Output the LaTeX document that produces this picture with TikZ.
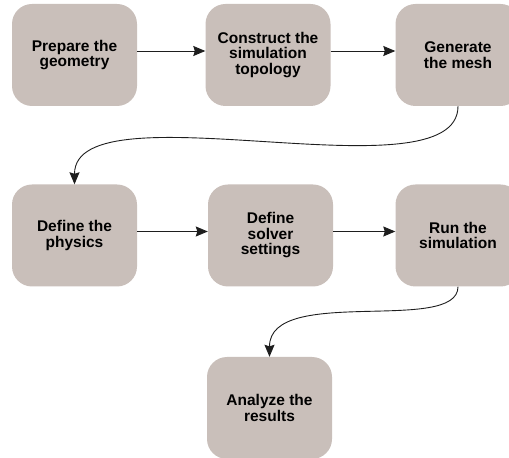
\documentclass[tikz,border=0pt]{standalone}
\usepackage{fontspec}
\setmainfont{Liberation Sans}
\usetikzlibrary{arrows.meta}
\definecolor{boxfill}{RGB}{201,191,186}
\definecolor{flowline}{RGB}{30,30,30}

\begin{document}
\begin{tikzpicture}[x=1pt,y=1pt,
		stepbox/.style={fill=boxfill, rounded corners=20pt, minimum width=125pt, minimum height=102pt, inner sep=0pt, align=center, font=\fontsize{15.5}{15.5}\selectfont\bfseries},
		flow/.style={draw=flowline, line width=0.9pt, -{Stealth[length=12pt,width=10pt,inset=1.5pt]}}]
			\pgfmathsetmacro{\TopRow}{403}
			\pgfmathsetmacro{\MidRow}{222.5}
			\pgfmathsetmacro{\LowRow}{50}
			\pgfmathsetmacro{\ArrowLift}{4}
			\useasboundingbox (0,0) rectangle (509,458);
			
			\node[stepbox] (prepare) at (74.5,\TopRow) {Prepare the\\geometry};
			\node[stepbox] (construct) at (268,\TopRow) {Construct the\\simulation\\topology};
			\node[stepbox] (mesh) at (458,\TopRow) {Generate\\the mesh};
			
			\node[stepbox] (physics) at (74.5,\MidRow) {Define the\\physics};
			\node[stepbox] (solver) at (270.5,\MidRow) {Define\\solver\\settings};
			\node[stepbox] (run) at (458,\MidRow) {Run the\\simulation};
			
			\node[stepbox] (analyze) at (269.5,\LowRow) {Analyze the\\results};
			
			\draw[flow] ([yshift=\ArrowLift pt]prepare.east) -- ([yshift=\ArrowLift pt]construct.west);
			\draw[flow] ([yshift=\ArrowLift pt]construct.east) -- ([yshift=\ArrowLift pt]mesh.west);
			\draw[flow] (mesh.south) .. controls +(0,-94) and +(0,100) .. (physics.north);
			\draw[flow] ([yshift=\ArrowLift pt]physics.east) -- ([yshift=\ArrowLift pt]solver.west);
			\draw[flow] ([yshift=\ArrowLift pt]solver.east) -- ([yshift=\ArrowLift pt]run.west);
			\draw[flow] (run.south) .. controls +(0,-48) and +(0,72) .. (analyze.north);
		\end{tikzpicture}
\end{document}
